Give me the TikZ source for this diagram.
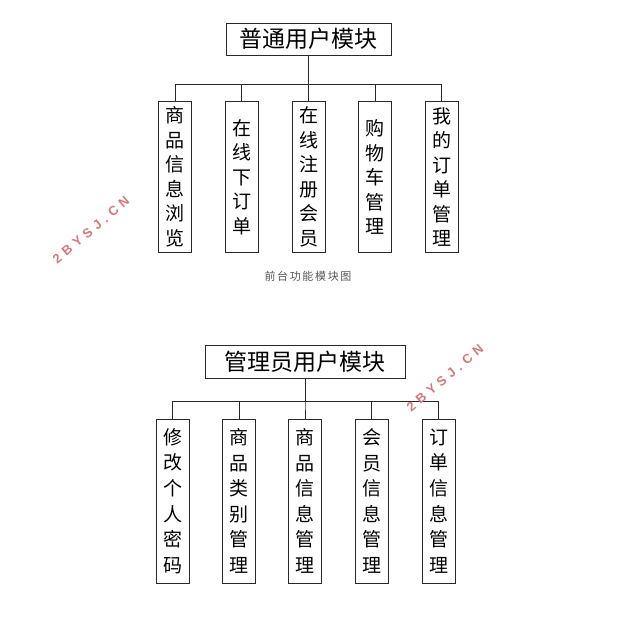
\documentclass[tikz,border=0pt]{standalone}
\usepackage{fontspec}
\usepackage{tikz}
\usetikzlibrary{calc}

\newfontfamily\cjk{Noto Sans CJK SC}
\newfontfamily\cjkcap[LetterSpace=15]{Noto Sans CJK SC}
\newfontfamily\wmfont[LetterSpace=35]{Liberation Sans}

\definecolor{wmred}{RGB}{214,120,122}
\definecolor{capgrey}{RGB}{85,85,85}
\definecolor{linegrey}{RGB}{40,40,40}

\tikzset{
	titlebox/.style = {draw=linegrey, line width=0.8pt, inner sep=0pt, font=\cjk\fontsize{23}{23}\selectfont},
	leafbox/.style = {draw=linegrey, line width=0.8pt, inner sep=0pt, minimum width=33pt, align=center},
	link/.style = {draw=linegrey, line width=0.8pt},
	watermark/.style = {rotate=40, text=wmred, font=\wmfont\bfseries\fontsize{13}{13}\selectfont},
}

\begin{document}
\begin{tikzpicture}[x=1pt, y=-1pt]
			\useasboundingbox (0,0) rectangle (624,626);

			% front end
			\node [titlebox, minimum width=165, minimum height=32] (u) at (308.5,39) {普通用户模块};

			\begin{scope}[every node/.style = {leafbox, minimum height=151, font=\cjk\fontsize{19}{24.5}\selectfont}]
				\node (u1) at (175,177) {商\\品\\信\\息\\浏\\览};
				\node (u2) at (241.5,177) {在\\线\\下\\订\\单};
				\node (u3) at (308.5,177) {在\\线\\注\\册\\会\\员};
				\node (u4) at (375,177) {购\\物\\车\\管\\理};
				\node (u5) at (441.5,177) {我\\的\\订\\单\\管\\理};
			\end{scope}

			\foreach \i in {1,...,5}
				\draw [link] (u.south) -- ++(0,29) -| (u\i.north);

			\node [font=\cjkcap\fontsize{11}{11}\selectfont, text=capgrey] (cap) at (308,276) {前台功能模块图};

			% back end
			\node [titlebox, minimum width=200, minimum height=33] (a) at (305,361.5) {管理员用户模块};

			\begin{scope}[every node/.style = {leafbox, minimum height=164, font=\cjk\fontsize{19}{25.6}\selectfont}]
				\node (a1) at (172.5,501) {修\\改\\个\\人\\密\\码};
				\node (a2) at (239,501) {商\\品\\类\\别\\管\\理};
				\node (a3) at (305,501) {商\\品\\信\\息\\管\\理};
				\node (a4) at (371.5,501) {会\\员\\信\\息\\管\\理};
				\node (a5) at (438.5,501) {订\\单\\信\\息\\管\\理};
			\end{scope}

			\foreach \i in {1,...,5}
				\draw [link] (a.south) -- ++(0,23) -| (a\i.north);

			% watermarks
			\node [watermark] (wm1) at (91,230) {2BYSJ.CN};
			\node [watermark] (wm2) at (445,378) {2BYSJ.CN};
		\end{tikzpicture}
\end{document}
